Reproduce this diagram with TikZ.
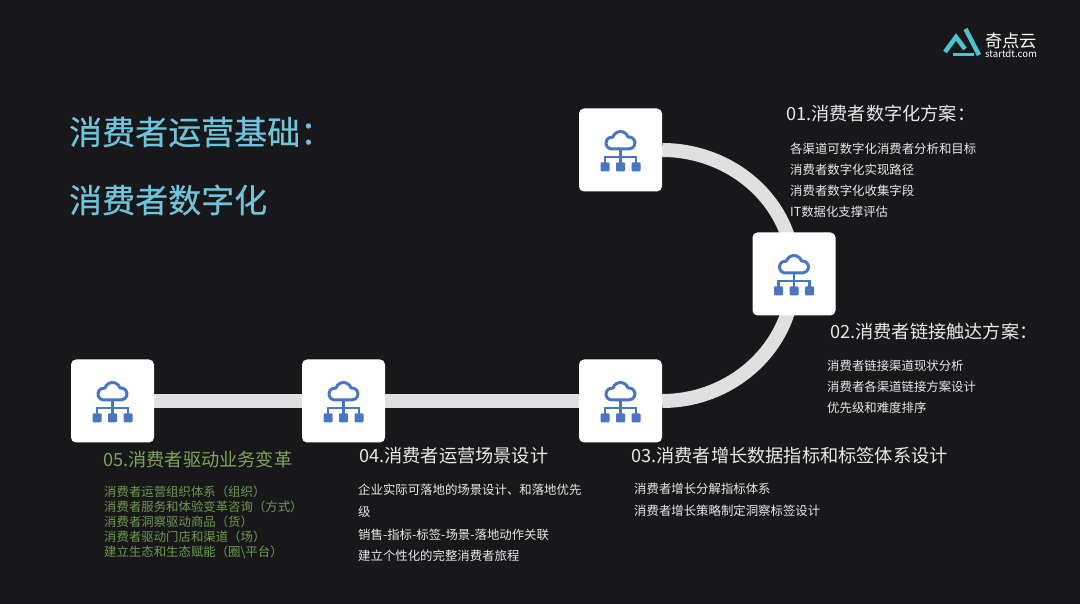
\documentclass[tikz,border=0pt]{standalone}
\usepackage{fontspec}
\usepackage{xcolor}
\setmainfont{Noto Sans CJK SC}
\newfontfamily\titlefont[FakeBold=0.5]{Noto Sans CJK SC}
\usetikzlibrary{backgrounds}
\definecolor{bgdark}{HTML}{18181B}
\definecolor{titleblue}{HTML}{6FC3DA}
\definecolor{linkgray}{HTML}{E0E0E0}
\definecolor{iconblue}{HTML}{4A76C0}
\definecolor{leafgreen}{HTML}{7BA55A}
\definecolor{detailgreen}{HTML}{6C9A4C}
\definecolor{bodygray}{HTML}{E8E8E8}
\definecolor{logoblue}{HTML}{4CC3D3}
\tikzset{
  iconbox/.style={draw=none, fill=white, rounded corners=5pt, minimum size=83pt, inner sep=0pt},
  link/.style={draw=linkgray, line width=14pt},
  bigtitle/.style={anchor=west, inner sep=0pt, text=titleblue, font=\titlefont\fontsize{33}{38}\selectfont},
  headline/.style={anchor=west, inner sep=0pt, text=bodygray, font=\fontsize{18.2}{21}\selectfont},
  detail/.style={anchor=west, inner sep=0pt, text=bodygray, font=\fontsize{12.4}{15}\selectfont},
  pics/cloudnet/.style={code={
    \draw[iconblue, line width=3pt, line join=round]
      (-8.5,1) arc (270:81.6:6) arc (162.3:17.7:8) arc (98.4:-90:6) -- cycle;
    \draw[iconblue, line width=2.6pt] (0,0) -- (0,-7)
      (-15.5,-13) -- (-15.5,-7) -- (15.5,-7) -- (15.5,-13) (0,-7) -- (0,-13);
    \foreach \x in {-15.5,0,15.5} {
      \fill[iconblue, rounded corners=1pt] (\x-4.5,-21.5) rectangle (\x+4.5,-12.5);
    }
  }}
}
\begin{document}
\begin{tikzpicture}[x=1pt, y=1pt]
  % Page
  \useasboundingbox (0,0) rectangle (1080,604);

  % Title
  \node[bigtitle] (title1) at (69,472) {消费者运营基础：};
  \node[bigtitle] (title2) at (69,404) {消费者数字化};

  % Boxes
  \node[iconbox] (box1) at (620.5,454) {};
  \node[iconbox] (box2) at (794,330) {};
  \node[iconbox] (box3) at (620.5,203) {};
  \node[iconbox] (box4) at (343.5,203) {};
  \node[iconbox] (box5) at (112.5,203) {};
  \foreach \b in {box1,box2,box3,box4,box5} {
    \pic at (\b.center) {cloudnet};
  }

  % Track behind the boxes
  \begin{scope}[on background layer]
    \fill[bgdark] (0,0) rectangle (1080,604);
    \draw[link] (box5) -- (box4);
    \draw[link] (box4) -- (box3);
    \draw[link] (box3.east) to[out=0, in=-90] (box2.center);
    \draw[link] (box1.east) to[out=0, in=90] (box2.center);
  \end{scope}

  % Step 01
  \node[headline] (head1) at (786,490) {01.消费者数字化方案：};
  \foreach \i/\txt/\y in {1/各渠道可数字化消费者分析和目标/455.5, 2/消费者数字化实现路径/434.5, 3/消费者数字化收集字段/413.5, 4/IT数据化支撑评估/392.5} {
    \node[detail] (one\i) at (790,\y) {\txt};
  }

  % Step 02
  \node[headline] (head2) at (830,272) {02.消费者链接触达方案：};
  \foreach \i/\txt/\y in {1/消费者链接渠道现状分析/238.5, 2/消费者各渠道链接方案设计/217.5, 3/优先级和难度排序/196.5} {
    \node[detail] (two\i) at (827,\y) {\txt};
  }

  % Step 03
  \node[headline] (head3) at (631,148) {03.消费者增长数据指标和标签体系设计};
  \foreach \i/\txt/\y in {1/消费者增长分解指标体系/115.5, 2/消费者增长策略制定洞察标签设计/93.5} {
    \node[detail] (three\i) at (634,\y) {\txt};
  }

  % Step 04
  \node[headline] (head4) at (359,148) {04.消费者运营场景设计};
  \foreach \i/\txt/\y in {1/企业实际可落地的场景设计、和落地优先/114.5, 2/级/92, 3/销售-指标-标签-场景-落地动作关联/69.5, 4/建立个性化的完整消费者旅程/48} {
    \node[detail] (four\i) at (358,\y) {\txt};
  }

  % Step 05
  \node[headline, text=leafgreen] (head5) at (103,144) {05.消费者驱动业务变革};
  \foreach \i/\txt/\y in {1/消费者运营组织体系（组织）/112, 2/消费者服务和体验变革咨询（方式）/97, 3/消费者洞察驱动商品（货）/82, 4/消费者驱动门店和渠道（场）/67, 5/建立生态和生态赋能（圈\textbackslash 平台）/52} {
    \node[detail, text=detailgreen] (five\i) at (104,\y) {\txt};
  }

  % Logo
  \draw[logoblue, line width=4.5pt, line join=miter] (945,552) -- (956,567) -- (965,555);
  \draw[logoblue, line width=4.5pt] (965.5,575) -- (979,549);
  \draw[logoblue, line width=3pt] (953,549) -- (974,549);
  \node[anchor=west, inner sep=0pt, text=white, font=\fontsize{17.3}{19}\selectfont] (logotext) at (985,563) {奇点云};
  \node[anchor=west, inner sep=0pt, text=white, font=\fontsize{9.6}{11}\selectfont] (logourl) at (985,550) {startdt.com};
\end{tikzpicture}
\end{document}
